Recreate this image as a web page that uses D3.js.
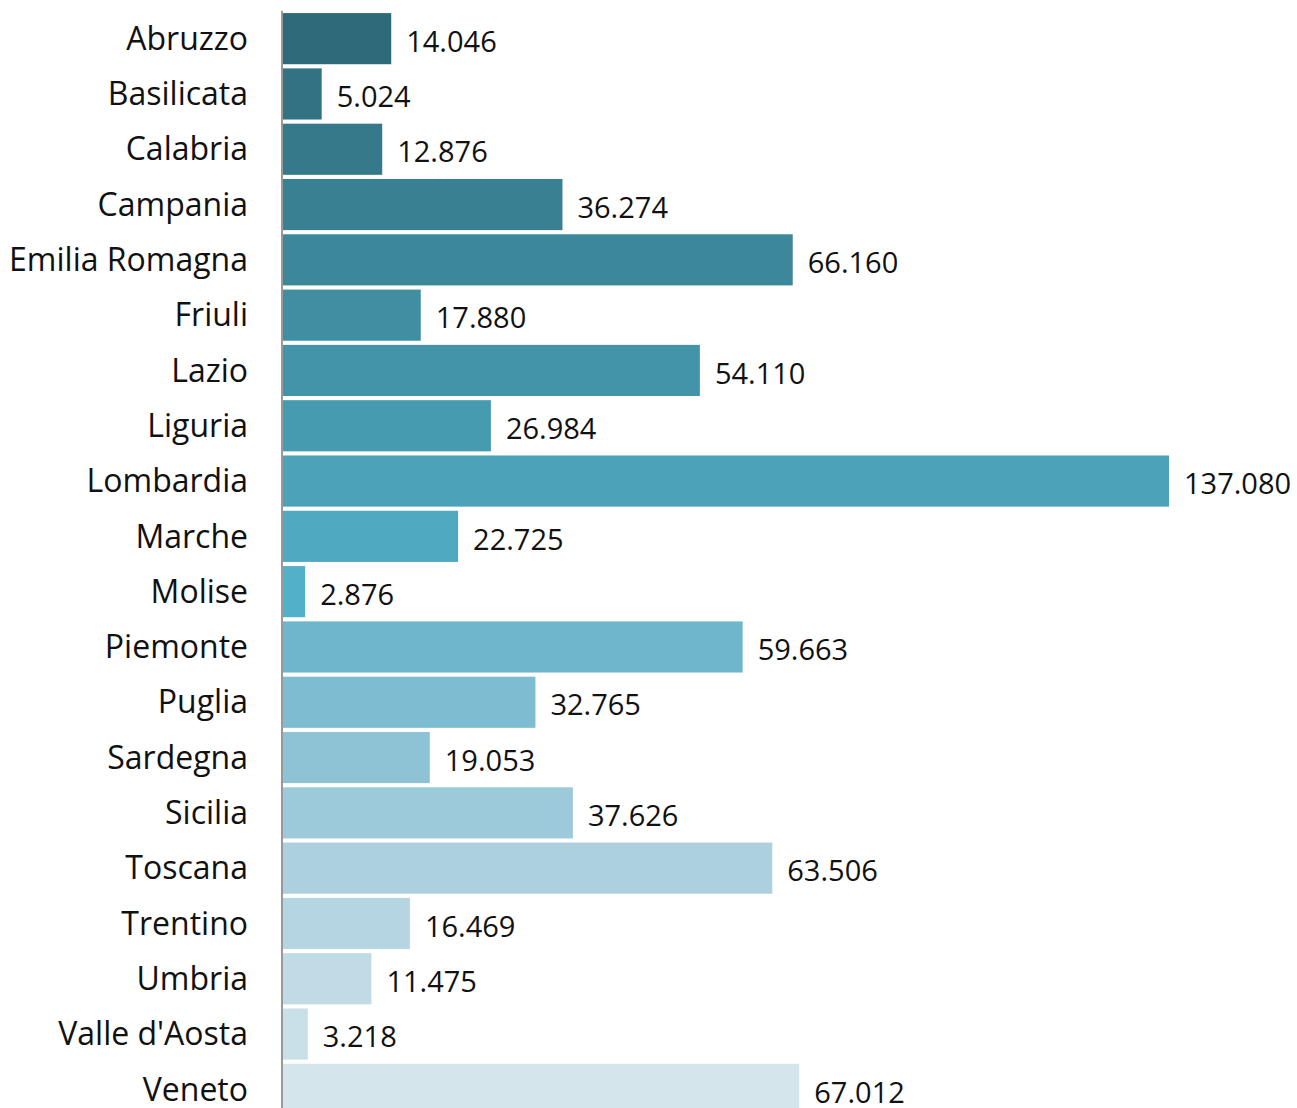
<!DOCTYPE html>
<html>
<head>
<meta charset="utf-8">
<script src="https://cdn.jsdelivr.net/npm/d3@7"></script>
<style>
    body { margin: 0; background: #fff; }
    text { font-family: "Open Sans", sans-serif; fill: #111; }
</style>
</head>
<body>
<svg id="chart"></svg>
<script>
const regions = ["Abruzzo", "Basilicata", "Calabria", "Campania", "Emilia Romagna", "Friuli", "Lazio",
    "Liguria", "Lombardia", "Marche", "Molise", "Piemonte", "Puglia", "Sardegna", "Sicilia",
    "Toscana", "Trentino", "Umbria", "Valle d'Aosta", "Veneto"];
const values = [14046, 5024, 12876, 36274, 66160, 17880, 54110, 26984, 137080, 22725, 2876,
    59663, 32765, 19053, 37626, 63506, 16469, 11475, 3218, 67012];
const colorIndex = [0, 10, 11, 15, 19];
const colorStops = ["#2e6b7a", "#52b0c9", "#6fb6cc", "#acd0de", "#d4e5ec"];

const WIDTH = 1297, HEIGHT = 1108;
const AXIS_X = 282;
const LABEL_GAP = 15;

const svg = d3.select("#chart")
    .attr("width", WIDTH)
    .attr("height", HEIGHT);

const data = regions.map((r, i) => ({ name: r, value: values[i], i: i }));

// bars run off the right edge, so the scale is clamped to the plot width
const x = d3.scaleLinear()
    .domain([0, 115000])
    .range([0, 886])
    .clamp(true);

const y = d3.scaleBand()
    .domain(regions)
    .range([11, 1117])
    .paddingInner(0.075)
    .paddingOuter(0.0375);

const color = d3.scaleLinear()
    .domain(colorIndex)
    .range(colorStops);

const plane = svg.append("g")
    .attr("transform", `translate(${[AXIS_X + 1, 0]})`);

plane.selectAll("rect.bar")
    .data(data)
    .enter()
    .append("rect")
    .attr("class", "bar")
    .attr("x", 0)
    .attr("y", d => y(d.name))
    .attr("width", d => x(d.value))
    .attr("height", y.bandwidth())
    .attr("fill", d => color(d.i));

plane.selectAll("text.value")
    .data(data)
    .enter()
    .append("text")
    .attr("class", "value")
    .attr("x", d => x(d.value) + LABEL_GAP)
    .attr("y", d => y(d.name) + y.bandwidth() / 2 + 3)
    .attr("dy", "0.35em")
    .style("font-size", "29px")
    .text(d => d3.format(",")(d.value).replace(/,/g, "."));

svg.selectAll("text.region")
    .data(data)
    .enter()
    .append("text")
    .attr("class", "region")
    .attr("x", 248)
    .attr("y", d => y(d.name) + y.bandwidth() / 2)
    .attr("dy", "0.35em")
    .attr("text-anchor", "end")
    .style("font-size", "32px")
    .text(d => d.name);

svg.append("line")
    .attr("x1", AXIS_X)
    .attr("x2", AXIS_X)
    .attr("y1", 11)
    .attr("y2", HEIGHT)
    .style("stroke", "#999")
    .style("stroke-width", 2);
</script>
</body>
</html>
